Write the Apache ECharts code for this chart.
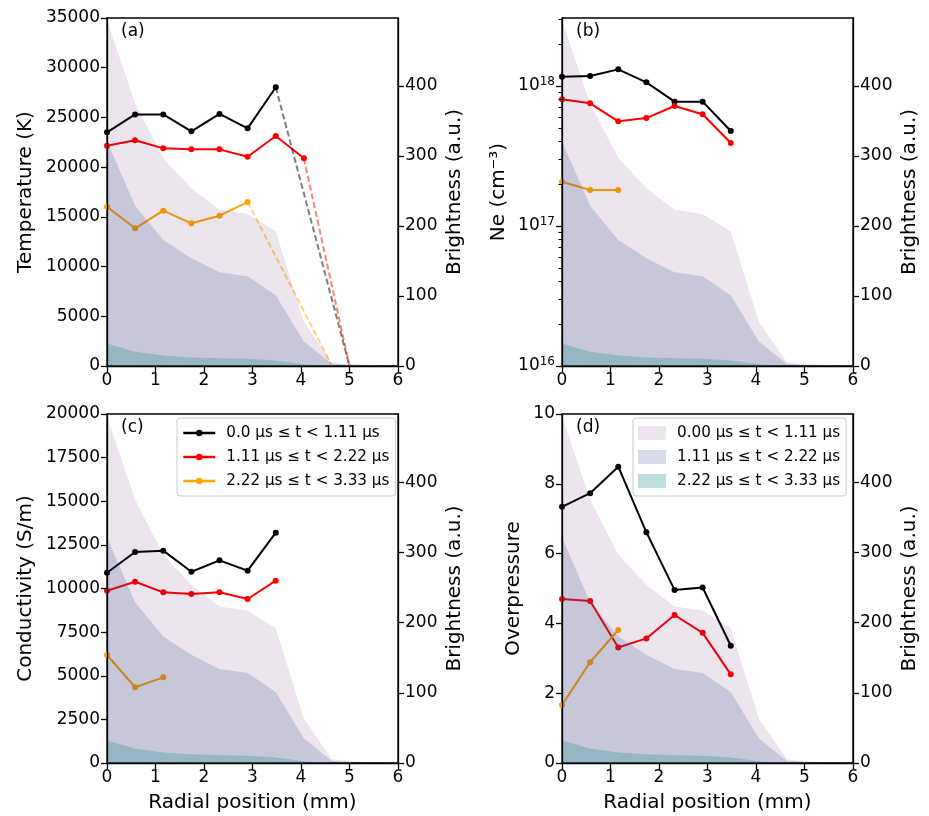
<!DOCTYPE html>
<html>
<head>
<meta charset="utf-8">
<script src="https://cdn.jsdelivr.net/npm/echarts@6/dist/echarts.min.js"></script>
<style>html,body{margin:0;padding:0;background:#fff}#c{width:929px;height:816px}</style>
</head>
<body>
<div id="c"></div>
<script>
// ---------- data ----------
const xPos = [0, 0.58, 1.16, 1.74, 2.32, 2.90, 3.48, 4.06];
const brightX = [0, 0.58, 1.16, 1.74, 2.32, 2.90, 3.48, 4.06, 4.64, 5.22, 5.80];
const bright1 = [494, 375, 297, 254, 223, 217, 192, 63, 5, 2, 0.5];
const bright2 = [321, 229, 180, 154, 134, 128, 101, 35, 3, 0.5, 0];
const bright3 = [32, 20.5, 15, 12.3, 11, 10.5, 8, 2.4, 0.5, 0.2, 0];

const tempEarly = [23500, 25300, 25300, 23600, 25350, 23900, 28030];
const tempMid = [22160, 22700, 21890, 21790, 21790, 21050, 23130, 20890];
const tempLate = [16020, 13850, 15620, 14350, 15120, 16490];
const tempZeroX = [5.0, 5.0, 4.64]; // where dashed extrapolations reach 0 K

const neEarly = [1.165e18, 1.18e18, 1.315e18, 1.062e18, 7.73e17, 7.73e17, 4.77e17];
const neMid = [8.04e17, 7.52e17, 5.59e17, 5.9e17, 7.2e17, 6.28e17, 3.92e17];
const neLate = [2.07e17, 1.81e17, 1.81e17];

const condEarly = [10905, 12090, 12170, 10960, 11615, 11020, 13200];
const condMid = [9875, 10390, 9780, 9685, 9780, 9400, 10450];
const condLate = [6190, 4340, 4910];

const opEarly = [7.34, 7.73, 8.49, 6.61, 4.96, 5.03, 3.36];
const opMid = [4.70, 4.64, 3.31, 3.57, 4.24, 3.73, 2.54];
const opLate = [1.66, 2.89, 3.81];

const lineNames = ['0.0 μs ≤ t < 1.11 μs', '1.11 μs ≤ t < 2.22 μs', '2.22 μs ≤ t < 3.33 μs'];
const areaNames = ['0.00 μs ≤ t < 1.11 μs', '1.11 μs ≤ t < 2.22 μs', '2.22 μs ≤ t < 3.33 μs'];
const brightTicks = [0, 100, 200, 300, 400];
const neMajor = [1e16, 1e17, 1e18];
const neMinor = [2e16,3e16,4e16,5e16,6e16,7e16,8e16,9e16,2e17,3e17,4e17,5e17,6e17,7e17,8e17,9e17,2e18,3e18];
const panelLabels = ['(a)', '(b)', '(c)', '(d)'];

// ---------- styling ----------
const FONT = 'DejaVu Sans';
const lineColors = ['#000000', '#ff0000', '#ffa500'];
const dashColors = ['rgba(0,0,0,0.5)', 'rgba(255,0,0,0.5)', 'rgba(255,165,0,0.5)'];
const areaColors = ['rgba(68,1,84,0.1)', 'rgba(59,82,139,0.2)', 'rgba(33,145,140,0.3)'];
const BRIGHT_MAX = 497;

const grids = [
  {left: 107, top: 18, width: 291, height: 348},
  {left: 562, top: 18, width: 291, height: 348},
  {left: 107, top: 414, width: 291, height: 349},
  {left: 562, top: 414, width: 291, height: 349}
].map(g => Object.assign({show: true, borderColor: '#000', borderWidth: 1.3, backgroundColor: 'transparent', containLabel: false}, g));

const axisLine = {show: true, lineStyle: {color: '#000', width: 1.3}};
const axisTick = {show: true, inside: false, length: 6, lineStyle: {color: '#000', width: 1.3}};
const labelStyle = {color: '#000', fontSize: 17, fontFamily: FONT};
const nameStyle = {color: '#000', fontSize: 20, fontFamily: FONT};
const plain = v => String(v);

const xAxes = grids.map((g, i) => ({
  type: 'value', gridIndex: i, min: 0, max: 6, interval: 1, z: 10,
  axisLine, axisTick, splitLine: {show: false},
  axisLabel: Object.assign({margin: 6, formatter: plain}, labelStyle),
  name: i >= 2 ? 'Radial position (mm)' : '', nameLocation: 'middle', nameGap: 30,
  nameTextStyle: nameStyle
}));

function leftAxis(gi, opts) {
  return Object.assign({
    type: 'value', gridIndex: gi, position: 'left', z: 10,
    axisLine, axisTick, splitLine: {show: false},
    axisLabel: Object.assign({margin: 7, formatter: plain}, labelStyle),
    nameLocation: 'middle', nameRotate: 90, nameTextStyle: nameStyle
  }, opts);
}
function rightAxis(gi) {
  return {
    type: 'value', gridIndex: gi, position: 'right', min: 0, max: BRIGHT_MAX, z: 10,
    axisLine, splitLine: {show: false},
    axisTick: Object.assign({customValues: brightTicks}, axisTick),
    axisLabel: Object.assign({margin: 7, customValues: brightTicks, formatter: plain}, labelStyle),
    name: 'Brightness (a.u.)', nameLocation: 'middle', nameRotate: 90, nameGap: 47,
    nameTextStyle: nameStyle
  };
}
const yAxes = [
  leftAxis(0, {min: 0, max: 35000, interval: 5000, name: 'Temperature (K)', nameGap: 71}),
  rightAxis(0),
  leftAxis(1, {type: 'log', logBase: 10, min: 1e16, max: 3.06e18, name: 'Ne (cm⁻³)', nameGap: 53,
    axisTick: Object.assign({customValues: neMajor}, axisTick),
    axisLabel: {margin: 7, customValues: neMajor, color: '#000', fontFamily: FONT,
      formatter: v => '{b|10}{s|' + Math.round(Math.log10(v)) + '}',
      rich: {b: {fontSize: 17, fontFamily: FONT, color: '#000'},
             s: {fontSize: 12, fontFamily: FONT, color: '#000', padding: [0, 0, 9, 0]}}}}),
  rightAxis(1),
  leftAxis(2, {min: 0, max: 20000, interval: 2500, name: 'Conductivity (S/m)', nameGap: 71}),
  rightAxis(2),
  leftAxis(3, {min: 0, max: 10, interval: 2, name: 'Overpressure', nameGap: 38}),
  rightAxis(3),
  // minor ticks of the log axis in panel (b)
  {type: 'log', logBase: 10, gridIndex: 1, position: 'left', min: 1e16, max: 3.06e18, z: 10,
   axisLine: {show: false}, splitLine: {show: false}, axisLabel: {show: false},
   axisTick: {show: true, inside: false, length: 3.5, customValues: neMinor, lineStyle: {color: '#000', width: 1}}}
];

function pts(xs, ys) { return ys.map((y, i) => [xs[i], y]); }

const series = [];
const panels = [
  [tempEarly, tempMid, tempLate],
  [neEarly, neMid, neLate],
  [condEarly, condMid, condLate],
  [opEarly, opMid, opLate]
];
panels.forEach((sets, p) => {
  sets.forEach((ys, k) => {
    series.push({
      type: 'line', name: lineNames[k], xAxisIndex: p, yAxisIndex: p * 2,
      data: pts(xPos, ys), symbol: 'circle', symbolSize: 6, showSymbol: true,
      lineStyle: {color: lineColors[k], width: 2}, itemStyle: {color: lineColors[k]},
      emphasis: {disabled: true}, z: 2
    });
  });
  if (p === 0) {
    sets.forEach((ys, k) => {
      const n = ys.length - 1;
      series.push({
        type: 'line', xAxisIndex: 0, yAxisIndex: 0,
        data: [[xPos[n], ys[n]], [tempZeroX[k], 0]], showSymbol: false, symbol: 'none',
        lineStyle: {color: dashColors[k], width: 2, type: [6, 3]},
        emphasis: {disabled: true}, z: 2
      });
    });
  }
  [bright1, bright2, bright3].forEach((ys, k) => {
    series.push({
      type: 'line', name: areaNames[k], xAxisIndex: p, yAxisIndex: p * 2 + 1,
      data: pts(brightX, ys), showSymbol: false, symbol: 'none',
      lineStyle: {width: 0}, itemStyle: {color: areaColors[k]},
      areaStyle: {color: areaColors[k], opacity: 1},
      emphasis: {disabled: true}, z: 5 + k
    });
  });
});

const legendBox = {
  orient: 'vertical', backgroundColor: 'rgba(255,255,255,0.8)', borderColor: '#cccccc',
  borderWidth: 1, borderRadius: 3, itemGap: 8, selectedMode: false, z: 20,
  textStyle: {color: '#000', fontSize: 15.2, fontFamily: FONT, lineHeight: 16, padding: [0, 0, 0, 6]}
};
const legends = [
  Object.assign({}, legendBox, {
    left: 177, top: 418, padding: [7, 6, 7, 5], itemWidth: 32, itemHeight: 8,
    data: lineNames.map((n, k) => ({name: n, itemStyle: {color: lineColors[k], borderWidth: 0},
      lineStyle: {color: lineColors[k], width: 2.5}}))
  }),
  Object.assign({}, legendBox, {
    left: 633, top: 418, padding: [7, 6, 7, 5], itemWidth: 28, itemHeight: 14,
    data: areaNames.map((n, k) => ({name: n, icon: 'rect', itemStyle: {color: areaColors[k], borderWidth: 0}}))
  })
];

const graphics = grids.map((g, i) => ({
  type: 'text', left: g.left + 14, top: g.top + 5, z: 20,
  style: {text: panelLabels[i], font: '17px "DejaVu Sans"', fill: '#000'}
}));

const chart = echarts.init(document.getElementById('c'), null, {renderer: 'canvas'});
chart.setOption({
  animation: false,
  backgroundColor: '#ffffff',
  textStyle: {fontFamily: FONT},
  grid: grids, xAxis: xAxes, yAxis: yAxes, series, legend: legends, graphic: graphics
});
</script>
</body>
</html>
